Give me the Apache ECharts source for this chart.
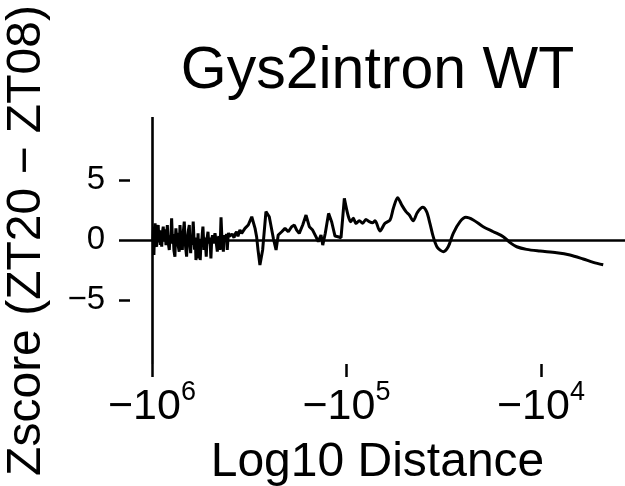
<!DOCTYPE html>
<html><head><meta charset="utf-8">
<script src="https://cdn.jsdelivr.net/npm/echarts@6/dist/echarts.min.js"></script>
<style>html,body{margin:0;padding:0;background:#fff}#c{width:625px;height:486px}</style>
</head><body><div id="c"></div>
<script>
const titleText = 'Gys2intron WT';
const xAxisTitle = 'Log10 Distance';
const yAxisTitle = 'Zscore (ZT20 \u2212 ZT08)';
const xTickExponents = [6, 5, 4];
const yTicks = [-5, 0, 5];
// log10 of |distance| (distance is negative)
const distLog = [
5.995,5.992,5.990,5.987,5.984,5.981,5.976,5.973,5.968,5.964,5.961,5.957,5.954,5.950,5.946,5.942,5.938,5.933,5.928,5.925,
5.921,5.918,5.914,5.911,5.907,5.904,5.899,5.895,5.891,5.887,5.882,5.879,5.877,5.872,5.869,5.865,5.860,5.856,5.852,5.848,
5.844,5.841,5.834,5.830,5.827,5.822,5.817,5.813,5.808,5.805,5.801,5.797,5.793,5.788,5.784,5.781,5.777,5.774,5.770,5.766,
5.763,5.760,5.756,5.752,5.748,5.746,5.741,5.738,5.734,5.733,5.729,5.724,5.721,5.717,5.712,5.708,5.704,5.700,5.697,5.693,
5.689,5.685,5.681,5.676,5.672,5.664,5.661,5.656,5.650,5.645,5.641,5.638,5.633,5.629,5.625,5.621,5.617,5.613,5.609,5.607,
5.603,5.599,5.594,5.589,5.584,5.578,5.573,5.565,5.558,5.548,5.539,5.522,5.505,5.487,5.470,5.462,5.455,5.445,5.431,5.414,
5.397,5.376,5.362,5.351,5.333,5.316,5.299,5.282,5.268,5.256,5.243,5.225,5.208,5.191,5.174,5.157,5.145,5.131,5.122,5.109,
5.092,5.076,5.059,5.039,5.028,5.011,
4.991,4.978,4.965,4.951,4.934,4.917,4.900,4.883,4.865,4.853,4.828,4.802,4.776,4.759,4.737,4.716,4.694,4.677,4.657,4.636,
4.608,4.588,4.571,4.554,4.533,4.502,4.477,4.451,4.416,4.386,4.348,4.297,4.245,4.194,4.159,4.125,4.074,4.005,3.919,3.851,
3.783,3.731,3.680
];
const zscore = [
0.0,1.1,-1.25,0.9,1.39,-0.3,-0.56,0.6,1.25,-0.2,0.8,-0.4,0.5,-0.56,0.7,1.11,-0.1,0.9,-0.42,0.3,
1.25,0.2,-0.5,-0.83,0.4,-0.3,1.8,0.1,0.5,-0.9,-1.39,0.3,0.97,-0.2,0.6,-0.5,-0.97,1.25,0.2,0.7,
-0.83,0.3,1.53,0.1,-0.6,-1.39,0.2,0.8,1.25,-0.3,-1.1,0.4,-0.4,1.53,0.1,-0.8,0.2,-1.67,-0.3,-0.9,
0.56,-1.53,0.1,-1.67,-0.2,-0.5,0.6,1.11,-0.2,-0.83,0.2,-0.6,-1.39,0.1,0.69,-0.3,0.2,-0.5,-1.53,0.0,
0.4,-0.3,-0.2,0.56,0.1,-0.97,0.1,0.3,-0.83,1.89,0.4,0.1,-0.97,0.4,0.42,0.0,0.5,-0.83,0.2,0.6,
0.3,0.42,0.3,0.5,0.35,0.2,0.5,0.69,0.3,0.83,0.56,0.97,1.25,1.94,0.97,0.28,-0.8,-2.08,-0.83,2.36,
1.94,0.14,-0.83,0.42,0.69,0.97,0.69,1.11,1.25,0.83,0.56,1.25,2.08,1.11,0.83,0.28,-0.14,0.42,-0.42,0.56,
2.22,1.5,0.33,0.25,0.19,3.47,
2.0,1.53,1.81,1.39,1.61,1.39,1.72,1.53,1.44,1.61,0.75,1.39,1.67,2.64,3.53,2.92,2.36,2.08,1.61,2.28,
2.72,2.36,1.39,0.28,-0.61,-0.97,-0.56,0.56,1.53,1.89,1.67,1.11,0.69,0.28,-0.22,-0.56,-0.78,-0.92,-1.06,-1.25,
-1.58,-1.86,-2.06
];
const splitAt = distLog.indexOf(5.011);
const pts = distLog.map((d, i) => [d, zscore[i]]);
const noisy = pts.slice(0, splitAt + 1);
const smoothPart = pts.slice(splitAt);

const FONT = '"Liberation Sans", Arial, Helvetica, sans-serif';
const chart = echarts.init(document.getElementById('c'), null, {renderer: 'canvas'});
chart.setOption({
  animation: false,
  backgroundColor: '#ffffff',
  title: {
    text: titleText, left: 377.5, top: 42, padding: 0, textAlign: 'center',
    textStyle: {fontFamily: FONT, fontSize: 59, fontWeight: 'normal', color: '#000'}
  },
  grid: {left: 130, right: 0, top: 117, bottom: 122, containLabel: false, outerBoundsMode: 'none'},
  xAxis: {
    type: 'value', min: 3.568, max: 6.113, inverse: true,
    name: xAxisTitle, nameLocation: 'middle', nameGap: 75,
    nameTextStyle: {fontFamily: FONT, fontSize: 48, color: '#000'},
    axisLine: {show: false, onZero: false},
    splitLine: {show: false},
    axisTick: {show: true, length: 13, customValues: xTickExponents, lineStyle: {color: '#000', width: 2.5}},
    axisLabel: {
      customValues: xTickExponents, margin: 15,
      formatter: v => '{m|\u221210}{e|' + Math.round(v) + '}',
      rich: {
        m: {fontFamily: FONT, fontSize: 43, lineHeight: 50, color: '#000', verticalAlign: 'bottom'},
        e: {fontFamily: FONT, fontSize: 27, lineHeight: 30, color: '#000', verticalAlign: 'top'}
      }
    }
  },
  yAxis: {
    type: 'value', min: -10.33, max: 10.25,
    name: yAxisTitle, nameLocation: 'middle', nameGap: 79, nameRotate: 90,
    nameTextStyle: {fontFamily: FONT, fontSize: 48, color: '#000'},
    axisLine: {show: false, onZero: false},
    splitLine: {show: false},
    axisTick: {show: true, length: 11, customValues: yTicks, lineStyle: {color: '#000', width: 2.5}},
    axisLabel: {
      customValues: yTicks, margin: 25,
      formatter: v => (v < 0 ? '\u2212' + Math.abs(v) : String(v)),
      fontFamily: FONT, fontSize: 33, color: '#000'
    }
  },
  series: [
    {
      type: 'line', data: noisy, showSymbol: false, smooth: false,
      lineStyle: {color: '#000', width: 3}, z: 3,
      markLine: {
        silent: true, symbol: 'none', label: {show: false},
        lineStyle: {color: '#000', width: 2.6, type: 'solid'},
        data: [{xAxis: 6}, {yAxis: 0}]
      }
    },
    {
      type: 'line', data: smoothPart, showSymbol: false, smooth: 0.3,
      lineStyle: {color: '#000', width: 3}, z: 3
    }
  ]
});
</script>
</body></html>
